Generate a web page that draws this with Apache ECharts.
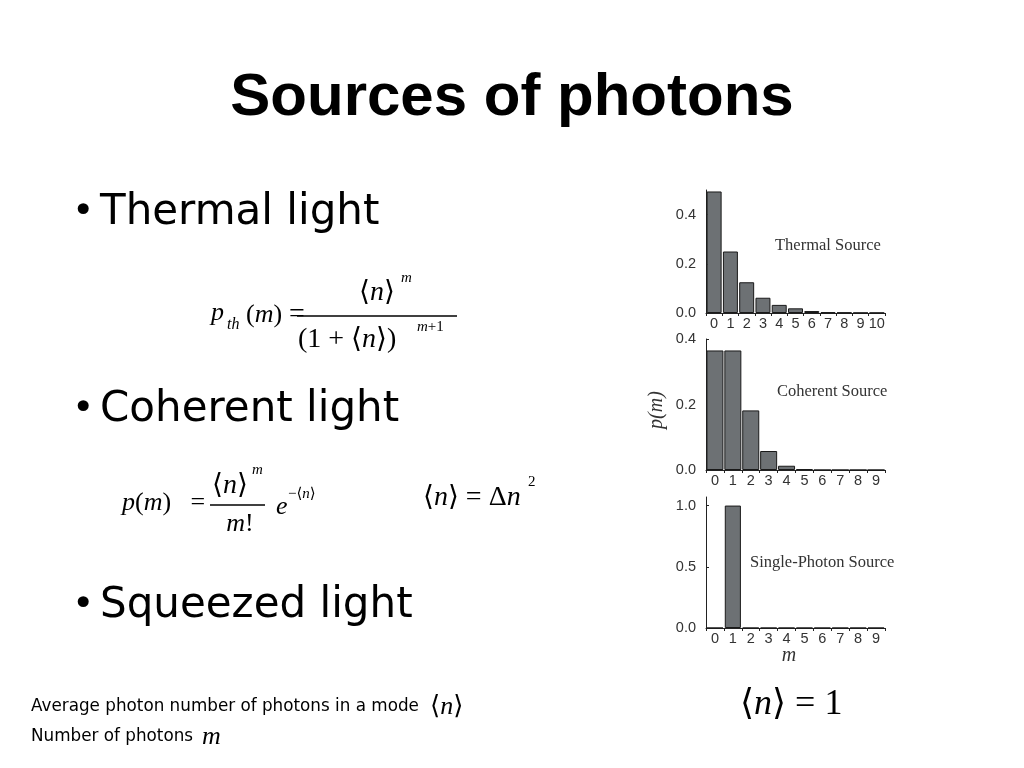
<!DOCTYPE html>
<html><head><meta charset="utf-8">
<script src="https://cdn.jsdelivr.net/npm/echarts@6/dist/echarts.min.js"></script>
<style>html,body{margin:0;padding:0;background:#fff;}#c{width:1024px;height:768px;}</style>
</head><body><div id="c"></div>
<script>
// ---- data ----
const thermalM = ['0','1','2','3','4','5','6','7','8','9','10'];
const thermalP = [0.494, 0.25, 0.125, 0.062, 0.033, 0.019, 0.008, 0.003, 0.002, 0.001, 0.001];
const coherentM = ['0','1','2','3','4','5','6','7','8','9'];
const coherentP = [0.365, 0.365, 0.182, 0.058, 0.013, 0.003, 0, 0, 0, 0];
const singleM = ['0','1','2','3','4','5','6','7','8','9'];
const singleP = [0, 1.0, 0, 0, 0, 0, 0, 0, 0, 0];
const titles = ['Thermal Source', 'Coherent Source', 'Single-Photon Source'];

const chart = echarts.init(document.getElementById('c'), null, {renderer:'canvas'});
const SERIF = '"Liberation Serif","Times New Roman","DejaVu Serif",serif';
const SANS = '"Liberation Sans",Arial,sans-serif';
const BODY = '"DejaVu Sans",Verdana,sans-serif';
const BAR = '#6d7174';

const grids = [
  {left:706, top:190, width:179, height:123},
  {left:706, top:339, width:179, height:131},
  {left:706, top:497, width:179, height:131}
];
function xAx(i, cats){
  return {type:'category', gridIndex:i, data:cats, boundaryGap:true,
    axisLine:{lineStyle:{color:'#222', width:1}},
    axisTick:{show:true, length:3, lineStyle:{color:'#222'}},
    axisLabel:{color:'#333', fontFamily:SANS, fontSize:14.5, margin:3, interval:0}};
}
function yAx(i, max, interval){
  return {type:'value', gridIndex:i, min:0, max:max, interval:interval,
    axisLine:{show:true, lineStyle:{color:'#222', width:1}},
    axisTick:{show:true, inside:true, length:3, lineStyle:{color:'#222'}},
    splitLine:{show:false},
    axisLabel:{color:'#333', fontFamily:SANS, fontSize:14.5, margin:10, showMaxLabel: (max % interval === 0),
      formatter:v=>v.toFixed(1)}};
}
function barS(i, data, gap){
  return {type:'bar', xAxisIndex:i, yAxisIndex:i, data:data, barCategoryGap:gap,
    itemStyle:{color:BAR, borderColor:'#1a1a1a', borderWidth:1}, silent:true, animation:false};
}
function txt(x, y, rich, parts, align, fs){
  return {type:'text', x:x, y:y, silent:true,
    style:{text:parts, align:align||'left', verticalAlign:'middle', rich:rich, fontSize:fs||26, fontFamily:SERIF, fill:'#000'}};
}
function mathRich(fs){
  return {i:{fontFamily:SERIF, fontStyle:'italic', fontSize:fs, fill:'#000'},
          r:{fontFamily:SERIF, fontSize:fs, fill:'#000'},
          b:{fontFamily:'"DejaVu Serif","DejaVu Sans",serif', fontSize:fs, fill:'#000'}};
}
function plain(x, y, text, o){
  return {type:'text', x:x, y:y, silent:true,
    style:Object.assign({text:text, align:'left', verticalAlign:'middle', fill:'#000'}, o)};
}
const m26 = mathRich(26), m28 = mathRich(28), m15 = mathRich(15), m36 = mathRich(36);

const graphic = [
  plain(512, 98, 'Sources of photons', {align:'center', fontFamily:SANS, fontWeight:'bold', fontSize:60}),
  plain(72, 213, '•', {fontFamily:BODY, fontSize:38}),
  plain(100, 213, 'Thermal light', {fontFamily:BODY, fontSize:42}),
  plain(72, 410, '•', {fontFamily:BODY, fontSize:38}),
  plain(100, 410, 'Coherent light', {fontFamily:BODY, fontSize:42}),
  plain(72, 606, '•', {fontFamily:BODY, fontSize:38}),
  plain(100, 606, 'Squeezed light', {fontFamily:BODY, fontSize:42}),
  // thermal formula
  txt(211, 313, m26, '{i|p}'),
  txt(227, 325, mathRich(16), '{i|th}'),
  txt(246, 315, m26, '{r|(}{i|m}{r|)}'),
  txt(289, 315, m28, '{r|=}'),
  {type:'line', silent:true, shape:{x1:297, y1:316, x2:457, y2:316}, style:{stroke:'#000', lineWidth:1.5}},
  txt(359, 293, m28, '{b|⟨}{i|n}{b|⟩}'),
  txt(401, 278, m15, '{i|m}'),
  txt(298, 340, m28, '{r|(1 + }{b|⟨}{i|n}{b|⟩}{r|)}'),
  txt(417, 327, m15, '{i|m}{r|+1}'),
  // coherent formula
  txt(122, 503, m26, '{i|p}{r|(}{i|m}{r|)   =}'),
  {type:'line', silent:true, shape:{x1:210, y1:505, x2:265, y2:505}, style:{stroke:'#000', lineWidth:1.5}},
  txt(212, 486, m28, '{b|⟨}{i|n}{b|⟩}'),
  txt(252, 470, m15, '{i|m}'),
  txt(240, 524, m26, '{i|m}{r|!}', 'center'),
  txt(276, 507, m26, '{i|e}'),
  txt(288, 494, m15, '{r|−}{b|⟨}{i|n}{b|⟩}'),
  txt(423, 498, m28, '{b|⟨}{i|n}{b|⟩}{r| = Δ}{i|n}'),
  txt(528, 482, m15, '{r|2}'),
  // bottom notes
  plain(31, 707, 'Average photon number of photons in a mode', {fontFamily:BODY, fontSize:16.8}),
  txt(430, 707, m26, '{b|⟨}{i|n}{b|⟩}'),
  plain(31, 737, 'Number of photons', {fontFamily:BODY, fontSize:16.8}),
  txt(202, 737, m26, '{i|m}'),
  txt(740, 705, m36, '{b|⟨}{i|n}{b|⟩}{r| = 1}'),
  // chart annotations
  plain(775, 246, titles[0], {fontFamily:SERIF, fontSize:16.5, fill:'#333'}),
  plain(777, 392, titles[1], {fontFamily:SERIF, fontSize:16.5, fill:'#333'}),
  plain(750, 563, titles[2], {fontFamily:SERIF, fontSize:16.5, fill:'#333'}),
  {type:'text', x:657, y:410, rotation:Math.PI/2, silent:true,
    style:{text:'p(m)', align:'center', verticalAlign:'middle', fontFamily:SERIF, fontStyle:'italic', fontSize:20, fill:'#333'}},
  plain(789, 656, 'm', {align:'center', fontFamily:SERIF, fontStyle:'italic', fontSize:20, fill:'#333'})
];

chart.setOption({
  backgroundColor:'#fff',
  animation:false,
  grid:grids,
  xAxis:[xAx(0, thermalM), xAx(1, coherentM), xAx(2, singleM)],
  yAxis:[yAx(0, 0.5, 0.2), yAx(1, 0.4, 0.2), yAx(2, 1.07, 0.5)],
  series:[barS(0, thermalP, '8%'), barS(1, coherentP, '5%'), barS(2, singleP, '10%')],
  graphic:graphic
});
</script>
</body></html>
